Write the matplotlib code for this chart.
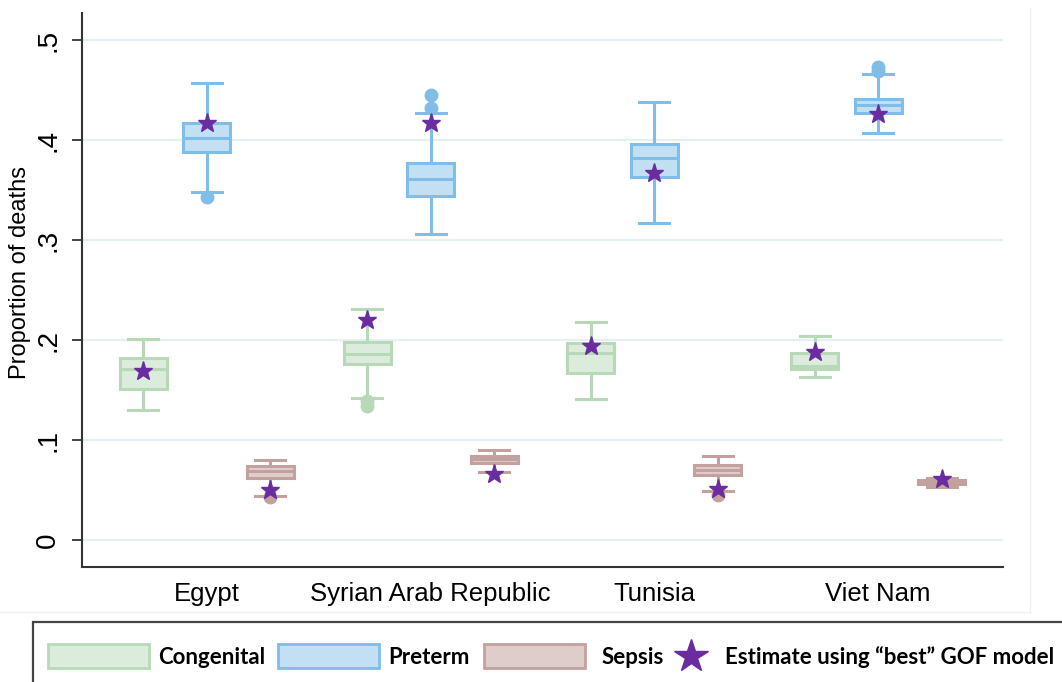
import numpy as np
import matplotlib.pyplot as plt
from matplotlib.patches import Rectangle
from matplotlib.lines import Line2D

plt.rcParams['font.family'] = ['Liberation Sans', 'DejaVu Sans']

countries = ["Egypt", "Syrian Arab Republic", "Tunisia", "Viet Nam"]
causes = ["Congenital", "Preterm", "Sepsis"]

# five numbers per country: lower whisker, q1, median, q3, upper whisker
congenital = [[0.130, 0.151, 0.171, 0.182, 0.201],
              [0.142, 0.176, 0.186, 0.198, 0.231],
              [0.141, 0.167, 0.187, 0.197, 0.218],
              [0.163, 0.171, 0.174, 0.187, 0.204]]
preterm = [[0.348, 0.388, 0.402, 0.417, 0.457],
           [0.306, 0.344, 0.361, 0.377, 0.427],
           [0.317, 0.363, 0.382, 0.396, 0.438],
           [0.407, 0.427, 0.435, 0.441, 0.466]]
sepsis = [[0.044, 0.062, 0.069, 0.074, 0.080],
          [0.068, 0.077, 0.081, 0.084, 0.090],
          [0.049, 0.065, 0.070, 0.075, 0.084],
          [0.053, 0.056, 0.058, 0.060, 0.062]]

# outside values
congenital_out = [[], [0.139, 0.134], [], []]
preterm_out = [[0.343], [0.432, 0.445], [], [0.469, 0.473]]
sepsis_out = [[0.043], [], [0.045], []]

# "best" GOF model estimates (stars)
congenital_est = [0.169, 0.220, 0.194, 0.188]
preterm_est = [0.417, 0.417, 0.367, 0.426]
sepsis_est = [0.050, 0.066, 0.051, 0.061]

fills = ["#dcecdc", "#c2dff3", "#dfcdcc"]
edges = ["#b8d9b8", "#80bde8", "#c2a19f"]
star_col = "#6a2ca0"

W, H = 1062, 682
fig = plt.figure(figsize=(W / 100, H / 100), dpi=100)
ax = fig.add_axes([82 / W, 1 - 567 / H, (1003 - 82) / W, (567 - 13) / H])

centers = np.arange(1, len(countries) + 1)
offsets = [-0.284, 0.0, 0.284]

groups = [(congenital, congenital_out, congenital_est),
          (preterm, preterm_out, preterm_est),
          (sepsis, sepsis_out, sepsis_est)]

for k, (five, outs, est) in enumerate(groups):
    pos = centers + offsets[k]
    stats = []
    for i in range(len(countries)):
        lo, q1, med, q3, hi = five[i]
        stats.append(dict(whislo=lo, q1=q1, med=med, q3=q3, whishi=hi, fliers=outs[i]))
    ln = dict(color=edges[k], linewidth=2.2)
    ax.bxp(stats, positions=pos, widths=0.21, capwidths=0.134, patch_artist=True,
           boxprops=dict(facecolor=fills[k], edgecolor=edges[k], linewidth=2.2),
           medianprops=ln, whiskerprops=ln, capprops=ln,
           flierprops=dict(marker='o', markerfacecolor=edges[k], markeredgecolor=edges[k],
                           markersize=9), manage_ticks=False, zorder=2)
    ax.plot(pos, est, linestyle='none', marker='*', markersize=14, color=star_col, zorder=4)

ax.set_xlim(0.442, 4.558)
ax.set_ylim(-0.027, 0.527)
ax.set_yticks([0, 0.1, 0.2, 0.3, 0.4, 0.5])
ax.set_yticklabels(["0", ".1", ".2", ".3", ".4", ".5"], rotation=90, va='center')
ax.set_xticks(centers)
ax.set_xticklabels(countries)
ax.tick_params(axis='x', length=0, pad=11, labelsize=18.5)
ax.tick_params(axis='y', length=7, width=1.3, pad=8, labelsize=20, color='#333333')
ax.set_ylabel("Proportion of deaths", fontsize=17)
ax.yaxis.set_label_coords(-0.0554, 0.532)
ax.grid(axis='y', color='#e6eff1', linewidth=1.6, zorder=0)
ax.set_axisbelow(True)
for s in ['top', 'right']:
    ax.spines[s].set_visible(False)
for s in ['left', 'bottom']:
    ax.spines[s].set_linewidth(1.5)
    ax.spines[s].set_color('#333333')

# faint frame of the original graph
fig.add_artist(Line2D([0, 1030 / W], [1 - 612 / H] * 2, color='#f0f0f0', lw=1))
fig.add_artist(Line2D([1030 / W] * 2, [1 - 612 / H, 1 - 8 / H], color='#f0f0f0', lw=1))

# legend box drawn by hand
def fx(x):
    return x / W

def fy(y):
    return 1 - y / H

fig.add_artist(Rectangle((fx(33), fy(692)), fx(1075) - fx(33), fy(622) - fy(692),
                         fill=False, edgecolor='#444444', lw=1.6))
leg_font = dict(family=['Lato', 'Liberation Sans', 'DejaVu Sans'],
                fontweight='bold', fontsize=16, va='center')
patch_x = [48, 278, 484]
text_x = [158, 388, 602]
for k, name in enumerate(causes):
    fig.add_artist(Rectangle((fx(patch_x[k]), fy(668)), fx(101), fy(644) - fy(668),
                             facecolor=fills[k], edgecolor=edges[k], lw=2))
    fig.text(fx(text_x[k]), fy(657), name, **leg_font)
fig.add_artist(Line2D([fx(691)], [fy(656)], marker='*', markersize=25, color=star_col,
                      linestyle='none'))
fig.text(fx(725), fy(657), "Estimate using \u201cbest\u201d GOF model", **leg_font)

fig.savefig("out.png", dpi=100)
